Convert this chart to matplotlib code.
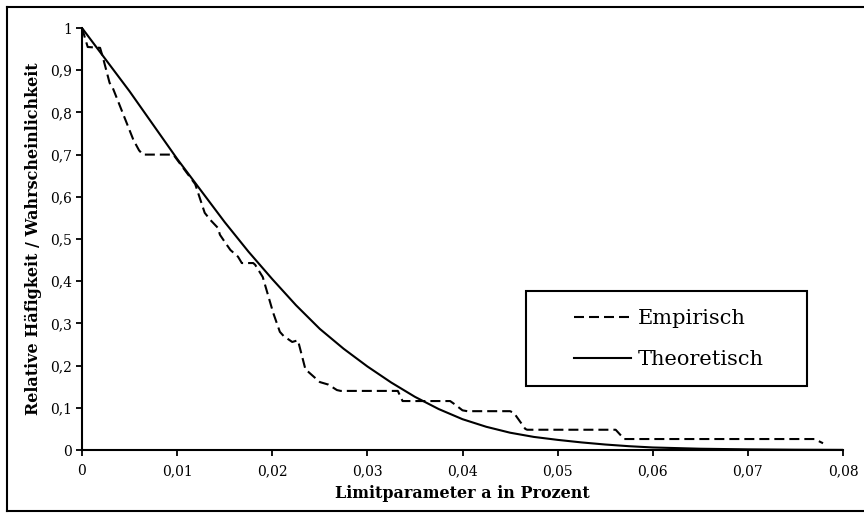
import matplotlib
matplotlib.use("Agg")
import matplotlib.pyplot as plt
from matplotlib.lines import Line2D
from matplotlib.patches import Rectangle
from matplotlib.ticker import FuncFormatter, MultipleLocator

# Empirical (dashed) curve
emp_x = [0.0, 0.0006, 0.0019, 0.0022, 0.0029, 0.0032, 0.0054, 0.0060, 0.0064, 0.0096,
         0.0119, 0.0129, 0.0135, 0.0143, 0.0145, 0.0151, 0.0156, 0.0164, 0.0168, 0.0180,
         0.0182, 0.0190, 0.0201, 0.0208, 0.0212, 0.0221, 0.0227, 0.0235, 0.0238, 0.0250,
         0.0259, 0.0268, 0.0272, 0.0332, 0.0337, 0.0387, 0.0392, 0.0400, 0.0405, 0.0450,
         0.0454, 0.0466, 0.0468, 0.0561, 0.0570, 0.0770, 0.0779]
emp_y = [1.0, 0.955, 0.953, 0.93, 0.87, 0.86, 0.735, 0.71, 0.70, 0.70,
         0.63, 0.562, 0.545, 0.526, 0.51, 0.49, 0.474, 0.458, 0.443, 0.443,
         0.439, 0.41, 0.325, 0.28, 0.27, 0.256, 0.26, 0.19, 0.185, 0.161,
         0.155, 0.142, 0.14, 0.14, 0.116, 0.116, 0.108, 0.094, 0.092, 0.092,
         0.088, 0.05, 0.048, 0.048, 0.026, 0.026, 0.016]

# Theoretical (solid) curve
theo_x = [0.0, 0.0025, 0.005, 0.0075, 0.01, 0.0125, 0.015, 0.0175, 0.02, 0.0225,
          0.025, 0.0275, 0.03, 0.0325, 0.035, 0.0375, 0.04, 0.0425, 0.045, 0.0475,
          0.05, 0.0525, 0.055, 0.0575, 0.06, 0.065, 0.07, 0.075, 0.08]
theo_y = [1.0, 0.925, 0.85, 0.77, 0.69, 0.615, 0.54, 0.47, 0.405, 0.343,
          0.287, 0.24, 0.198, 0.16, 0.126, 0.097, 0.073, 0.055, 0.041, 0.031,
          0.024, 0.018, 0.013, 0.009, 0.006, 0.003, 0.0015, 0.0007, 0.0003]

labels = ["Empirisch", "Theoretisch"]
xlabel = "Limitparameter a in Prozent"
ylabel = "Relative Häfigkeit / Wahrscheinlichkeit"

plt.rcParams['font.family'] = ['DejaVu Serif']

W, H = 864, 516
fig = plt.figure(figsize=(W / 100, H / 100), dpi=100)
ax = fig.add_axes([82 / W, (H - 450) / H, (843 - 82) / W, (450 - 28) / H])

ax.plot(emp_x, emp_y, color='black', lw=1.5, linestyle=(0, (4.8, 2.4)), label=labels[0])
ax.plot(theo_x, theo_y, color='black', lw=1.5, linestyle='-', label=labels[1])

ax.set_xlim(0, 0.08)
ax.set_ylim(0, 1)
ax.xaxis.set_major_locator(MultipleLocator(0.01))
ax.yaxis.set_major_locator(MultipleLocator(0.1))

def fmt(v, pos):
    s = f"{v:.2f}".rstrip('0').rstrip('.')
    if abs(v) < 1e-9:
        s = "0"
    return s.replace('.', ',')

def fmty(v, pos):
    s = f"{v:.1f}".rstrip('0').rstrip('.')
    if abs(v) < 1e-9:
        s = "0"
    return s.replace('.', ',')

ax.xaxis.set_major_formatter(FuncFormatter(fmt))
ax.yaxis.set_major_formatter(FuncFormatter(fmty))

for s in ['top', 'right']:
    ax.spines[s].set_visible(False)
for s in ['left', 'bottom']:
    ax.spines[s].set_linewidth(1.5)
    ax.spines[s].set_color('black')

ax.tick_params(axis='x', direction='out', length=4, width=1.3, pad=6, labelsize=10)
ax.tick_params(axis='y', direction='out', length=4, width=1.3, pad=3, labelsize=10)

ax.set_xlabel(xlabel, fontsize=11.5, fontweight='bold', labelpad=5)
ax.set_ylabel(ylabel, fontsize=11.5, fontweight='bold', labelpad=6)

# Legend box
rect = Rectangle((0.583, 0.152), 0.370, 0.225, transform=ax.transAxes,
                 fill=False, edgecolor='black', lw=1.5, zorder=5)
ax.add_patch(rect)
leg = ax.legend(loc='center left', bbox_to_anchor=(0.647, 0.262), frameon=False,
                borderpad=0, borderaxespad=0, handlelength=2.7, handletextpad=0.35,
                labelspacing=1.05, prop={'size': 15})

# Figure frame (left, top, bottom)
lw = 1.5
fig.add_artist(Line2D([7 / W, 7 / W], [(H - 7) / H, (H - 511) / H], color='black', lw=lw))
fig.add_artist(Line2D([7 / W, 1.0], [(H - 7) / H, (H - 7) / H], color='black', lw=lw))
fig.add_artist(Line2D([7 / W, 1.0], [(H - 511) / H, (H - 511) / H], color='black', lw=lw))

fig.savefig("out.png", dpi=100)
